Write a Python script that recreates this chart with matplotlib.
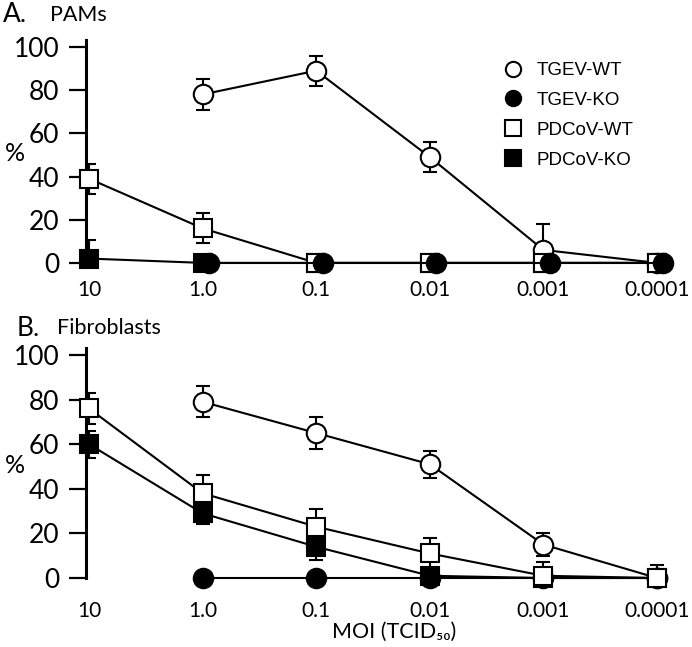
import matplotlib.pyplot as plt
from matplotlib.lines import Line2D
import numpy as np

nan = np.nan

MOI = ['10', '1.0', '0.1', '0.01', '0.001', '0.0001']
SERIES = ['TGEV-WT', 'TGEV-KO', 'PDCoV-WT', 'PDCoV-KO']

# A. PAMs
pam_tgev_wt = [nan, 78, 89, 49, 6, 0]
pam_tgev_wt_err = [nan, 7, 7, 7, 12, 0]
pam_tgev_ko = [nan, 0, 0, 0, 0, 0]
pam_tgev_ko_err = [nan, 0, 0, 0, 0, 0]
pam_pdcov_wt = [39, 16, 0, 0, 0, 0]
pam_pdcov_wt_err = [7, 7, 0, 0, 0, 0]
pam_pdcov_ko = [2, 0, 0, 0, 0, 0]
pam_pdcov_ko_err = [8.5, 0, 0, 0, 0, 0]

# B. Fibroblasts
fib_tgev_wt = [nan, 79, 65, 51, 15, 0]
fib_tgev_wt_err = [nan, 7, 7, 6, 5, 0]
fib_tgev_ko = [nan, 0, 0, 0, 0, 0]
fib_tgev_ko_err = [nan, 0, 0, 0, 0, 0]
fib_pdcov_wt = [76, 38, 23, 11, 1, 0]
fib_pdcov_wt_err = [7, 8, 8, 7, 6, 6]
fib_pdcov_ko = [60, 29, 14, 1, 0, 0]
fib_pdcov_ko_err = [6, 5, 6, 3, 0, 0]

STYLE = {
    'TGEV-WT':  dict(marker='o', mfc='white', ms=14),
    'TGEV-KO':  dict(marker='o', mfc='black', ms=14),
    'PDCoV-WT': dict(marker='s', mfc='white', ms=13),
    'PDCoV-KO': dict(marker='s', mfc='black', ms=13),
}

TICK_FONT = 'Lato'
LEG_FONT = 'Liberation Sans'


def draw_panel(ax, data, zorders, ko_shift, ylim, spine_bounds, xpad):
    x = np.arange(len(MOI))
    for name in SERIES:
        y, err = data[name]
        xs = x + (ko_shift if name == 'TGEV-KO' else 0)
        z = zorders[name]
        ax.errorbar(xs, y, yerr=err, fmt='none', ecolor='black',
                    elinewidth=1.5, capsize=5, capthick=1.5, zorder=z)
        ax.plot(xs, y, color='black', lw=1.5, mec='black', mew=1.5,
                clip_on=False, zorder=z + 0.5, **STYLE[name])
    ax.set_xlim(-0.03, 5.3)
    ax.set_ylim(*ylim)
    for s in ['top', 'right', 'bottom']:
        ax.spines[s].set_visible(False)
    ax.spines['left'].set_linewidth(2.2)
    ax.spines['left'].set_bounds(*spine_bounds)
    ax.set_yticks([0, 20, 40, 60, 80, 100])
    ax.set_xticks(x)
    ax.set_xticklabels(MOI)
    ax.tick_params(axis='y', direction='out', length=12, width=1.6,
                   pad=7, labelsize=19)
    ax.tick_params(axis='x', length=0, pad=xpad, labelsize=15)
    for lab in ax.get_xticklabels() + ax.get_yticklabels():
        lab.set_family(TICK_FONT)
    ax.patch.set_visible(False)


fig = plt.figure(figsize=(6.92, 6.47), dpi=100)
ax_a = fig.add_axes([0.1237, 0.587, 0.875, 0.3505])
ax_b = fig.add_axes([0.1237, 0.0963, 0.875, 0.3654])

pam = {
    'TGEV-WT': (pam_tgev_wt, pam_tgev_wt_err),
    'TGEV-KO': (pam_tgev_ko, pam_tgev_ko_err),
    'PDCoV-WT': (pam_pdcov_wt, pam_pdcov_wt_err),
    'PDCoV-KO': (pam_pdcov_ko, pam_pdcov_ko_err),
}
fib = {
    'TGEV-WT': (fib_tgev_wt, fib_tgev_wt_err),
    'TGEV-KO': (fib_tgev_ko, fib_tgev_ko_err),
    'PDCoV-WT': (fib_pdcov_wt, fib_pdcov_wt_err),
    'PDCoV-KO': (fib_pdcov_ko, fib_pdcov_ko_err),
}

draw_panel(ax_a, pam, {'TGEV-WT': 3, 'TGEV-KO': 5, 'PDCoV-WT': 4, 'PDCoV-KO': 2},
           0.057, (-2, 103), (-2, 103), 9)
draw_panel(ax_b, fib, {'TGEV-WT': 3, 'TGEV-KO': 1, 'PDCoV-WT': 5, 'PDCoV-KO': 4},
           0.0, (-3, 103), (0, 103), 12)

# legend (markers only)
handles = [Line2D([], [], ls='none', color='black', mec='black', mew=1.5,
                  marker=STYLE[n]['marker'], mfc=STYLE[n]['mfc'], ms=11)
           for n in SERIES]
ax_a.legend(handles, SERIES, loc='upper left', bbox_to_anchor=(0.69, 0.905),
            frameon=False, borderaxespad=0, borderpad=0, handlelength=1.0,
            handletextpad=0.75, labelspacing=0.68,
            prop={'family': LEG_FONT, 'size': 13.5})

# panel titles and axis labels
fig.text(0.004, 0.977, 'A.', fontsize=19, family=TICK_FONT, va='center')
fig.text(0.072, 0.977, 'PAMs', fontsize=15.5, family=TICK_FONT, va='center')
fig.text(0.024, 0.493, 'B.', fontsize=19, family=TICK_FONT, va='center')
fig.text(0.082, 0.493, 'Fibroblasts', fontsize=15.5, family=TICK_FONT, va='center')
fig.text(0.022, 0.763, '%', fontsize=18, family=TICK_FONT, ha='center', va='center')
fig.text(0.022, 0.281, '%', fontsize=18, family=TICK_FONT, ha='center', va='center')
fig.text(0.570, 0.023, 'MOI (TCID\u2085\u2080)', fontsize=15.5,
         family=[TICK_FONT, 'DejaVu Sans'], ha='center', va='center')

fig.savefig('out.png', dpi=100)
